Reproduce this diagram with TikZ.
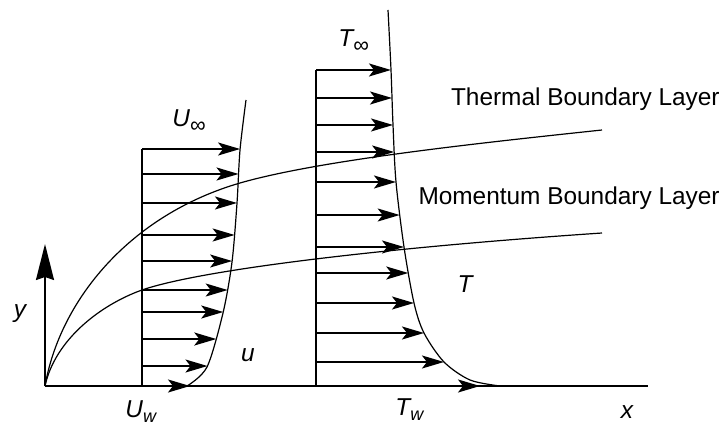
\documentclass[tikz,border=0pt]{standalone}
\usepackage{fontspec}
\setmainfont{Liberation Sans}
\usetikzlibrary{arrows.meta, positioning, intersections}
\tikzset{
    layerplot/.style={x=0.5pt, y=-0.5pt, >={Stealth[length=11pt, width=6.5pt, inset=2.5pt]}},
    wall/.style={line width=1pt},
    vec/.style={->, line width=0.85pt},
    curve/.style={line width=0.6pt},
    lbl/.style={inner sep=0pt, font=\fontsize{12.2}{14}\selectfont\itshape},
    % plain text beside the two layer lines
    layertext/.style={inner sep=0pt, font=\fontsize{12.2}{14}\selectfont},
}
\newcommand{\lowsub}[2][9]{\raisebox{-0.45ex}{\fontsize{#1}{#1}\selectfont #2}}

\begin{document}
\begin{tikzpicture}[layerplot]
    \useasboundingbox (0,0) rectangle (726,427);

    \coordinate (o)    at (45,386);
    \coordinate (ytop) at (45,244);
    \coordinate (xend) at (648,386);
    \coordinate (utop) at (246,100);
    \coordinate (ttop) at (388,10);

    % axes and the two profile walls
    \draw[wall] (o) -- (xend);
    \draw[wall, -{Stealth[length=18pt, width=9pt, inset=1.5pt]}] (o) -- (ytop);
    \draw[wall] (142,386) -- (142,149);
    \draw[wall] (316,386) -- (316,70);

    % velocity profile, arrows end on the curve
    \draw[curve, name path=ucurve] plot[smooth] coordinates {(utop) (240,150) (237,203) (232,262)
                                                             (223,313) (207,367) (187,386)};
    \foreach \yy [count=\i] in {149, 174, 203, 235, 261, 290, 312, 339, 366} {
        \coordinate (ub\i) at (142,\yy);
        \path[name path=uh\i] (ub\i) -- (300,\yy);
        \path[name intersections={of=ucurve and uh\i, by=ut\i}];
        \draw[vec] (ub\i) -- (ut\i);
    }
    \coordinate (ut10) at (190,386);
    \draw[vec] (142,386) -- (ut10);

    % temperature profile
    \draw[curve, name path=tcurve] plot[smooth] coordinates {(ttop) (391,70) (393,125) (396,182)
                                                             (404,247) (414,303) (424,333) (444,362)
                                                             (470,380) (500,386)};
    \foreach \yy [count=\i] in {70, 98, 125, 152, 182, 215, 247, 273, 303, 333, 362} {
        \coordinate (tb\i) at (316,\yy);
        \path[name path=th\i] (tb\i) -- (600,\yy);
        \path[name intersections={of=tcurve and th\i, by=tt\i}];
        \draw[vec] (tb\i) -- (tt\i);
    }
    \coordinate (tt12) at (480,386);
    \draw[vec] (316,386) -- (tt12);

    % boundary layers
    \coordinate (tend) at (602,130);
    \coordinate (mend) at (602,233);
    \draw[curve] (o) .. controls (60,300) and (130,215) .. (240,183)
                     .. controls (320,160) and (480,143) .. (tend);
    \draw[curve] (o) .. controls (55,340) and (100,305) .. (142,290)
                     .. controls (200,270) and (380,248) .. (mend);

    % labels
    \node[layertext, anchor=base east] (tbl)  at (720,106) {Thermal Boundary Layer};
    \node[layertext, anchor=base east] (mbl)  at (720,204) {Momentum Boundary Layer};
    \node[lbl, anchor=base west]  (uinf) at (172,127) {U\lowsub[11]{\upshape ∞}};
    \node[lbl, anchor=base west]  (tinf) at (338,47)  {T\lowsub[11]{\upshape ∞}};
    \node[lbl, anchor=base]       (ulab) at (248,361) {u};
    \node[lbl, anchor=base]       (tlab) at (465,292) {T};
    \node[lbl, anchor=base]       (ylab) at (20,317)  {y};
    \node[lbl, anchor=base]       (xlab) at (627,418) {x};
    \node[lbl, anchor=base west]  (uw)   at (125,417) {U\lowsub{w}};
    \node[lbl, anchor=base west]  (tw)   at (395,415) {T\lowsub{w}};
\end{tikzpicture}
\end{document}
